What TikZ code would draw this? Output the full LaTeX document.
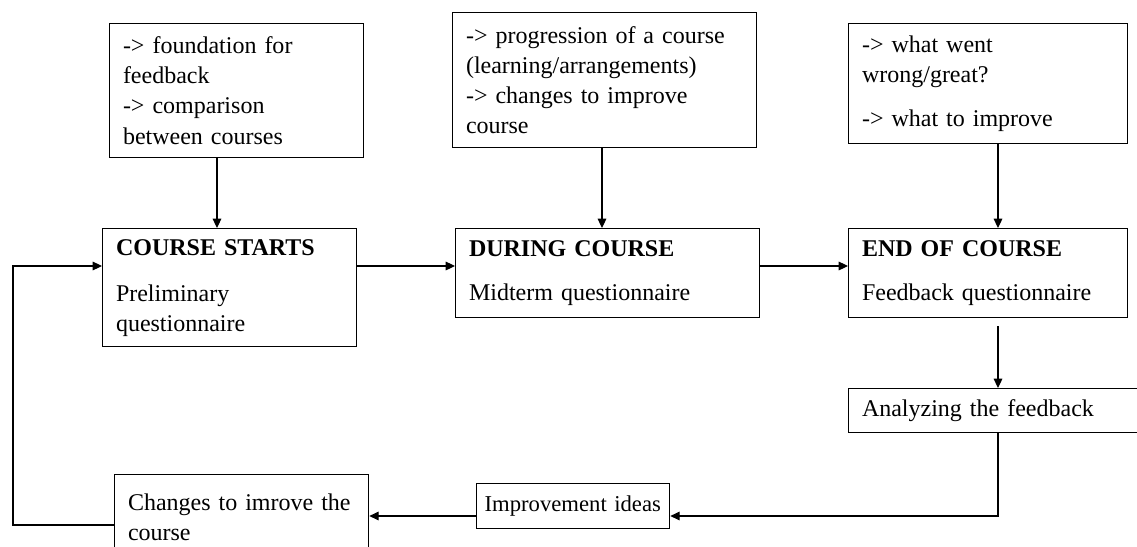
\documentclass[tikz,border=0pt]{standalone}
\usepackage{fontspec}
\setmainfont{Liberation Serif}
\usetikzlibrary{arrows.meta}
\begin{document}
\begin{tikzpicture}[x=0.75pt, y=-0.75pt, >={Triangle[length=7pt,width=6.5pt]}, line width=0.8pt,
		box/.style = {draw, line width=1pt, anchor=north west, align=left, inner xsep=10pt, inner ysep=0pt, font=\fontsize{18}{22.5}\selectfont}]
		\path[use as bounding box, clip] (0,0) rectangle (1137,546);
		\node[box, text width=170.5pt, minimum height=100.5pt] (1) at (109,23) {-> foundation for\\ feedback\\ -> comparison\\ between courses};
		\node[box, text width=208pt, minimum height=101.25pt] (2) at (452,12) {-> progression of a course\\ (learning/arrangements)\\ -> changes to improve\\ course};
		\node[box, text width=189.25pt, minimum height=90pt] (3) at (848,23) {-> what went\\ wrong/great?\\[10pt] -> what to improve};
		\node[box, text width=170.5pt, minimum height=88.5pt] (4) at (102,228) {\textbf{COURSE STARTS}\\[12pt] Preliminary\\ questionnaire};
		\node[box, text width=208pt, minimum height=66.75pt] (5) at (455,228) {\textbf{DURING COURSE}\\[11pt] Midterm questionnaire};
		\node[box, text width=189.25pt, minimum height=66.75pt] (6) at (848,228) {\textbf{END OF COURSE}\\[11pt] Feedback questionnaire};
		\node[box, text width=206.5pt, minimum height=33pt] (7) at (848,388) {Analyzing the feedback};
		\node[box, inner xsep=6pt, text width=132.75pt, minimum height=33.75pt, font=\fontsize{17}{21}\selectfont] (8) at (476,483) {Improvement ideas};
		\node[box, text width=170.5pt, minimum height=64.5pt] (9) at (114,474) {Changes to imrove the\\ course};
		\coordinate (c1) at (217,0);
		\coordinate (c2) at (602,0);
		\coordinate (row) at (13,266);
		\coordinate (low) at (998,516);
		\coordinate (back) at (13,525);
		\draw[->] (1.south -| c1) -- (4.north -| c1);
		\draw[->] (2.south -| c2) -- (5.north -| c2);
		\draw[->] (3.south -| low) -- (6.north -| low);
		\draw[->] (4.east |- row) -- (5.west |- row);
		\draw[->] (5.east |- row) -- (6.west |- row);
		\draw[->, shorten <=6pt] (6.south -| low) -- (7.north -| low);
		\draw[->] (7.south -| low) -- (low) -- (8.east |- low);
		\draw[->] (8.west |- low) -- (9.east |- low);
		\draw[->] (9.west |- back) -- (back) -- (row) -- (4.west |- row);
	\end{tikzpicture}
\end{document}
